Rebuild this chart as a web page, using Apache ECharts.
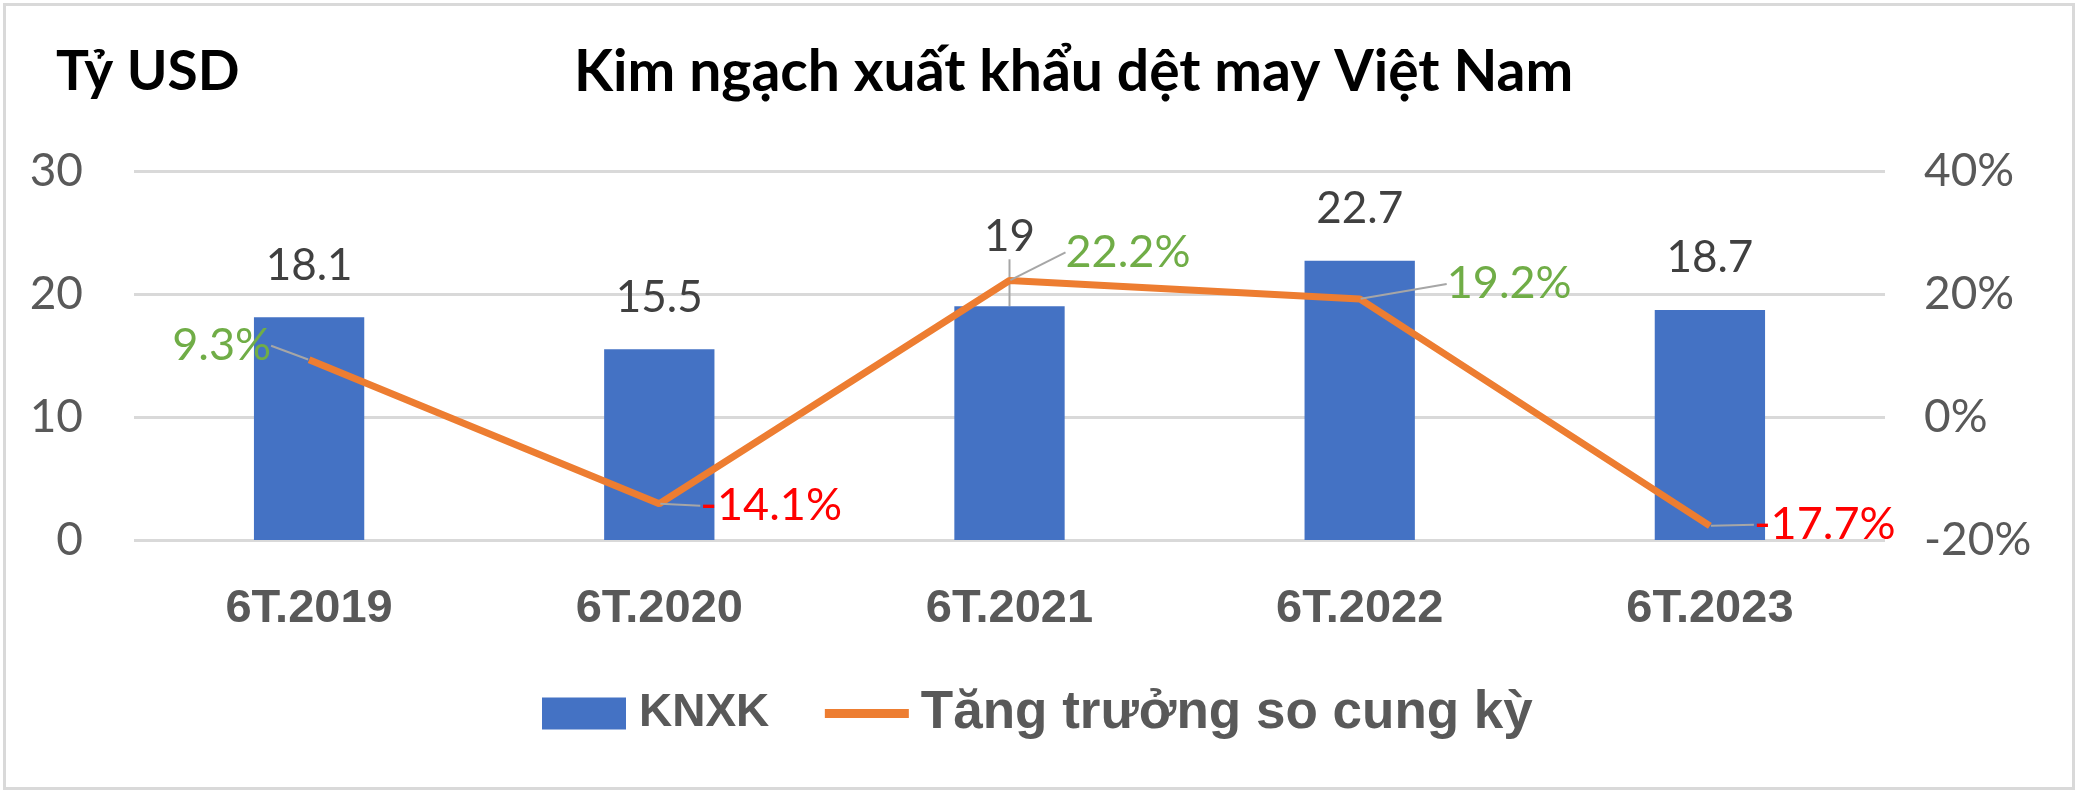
<!DOCTYPE html>
<html><head><meta charset="utf-8">
<script src="https://cdn.jsdelivr.net/npm/echarts@6/dist/echarts.min.js"></script>
<style>html,body{margin:0;padding:0;background:#fff}#c{width:2076px;height:792px}</style>
</head><body><div id="c"></div>
<script>
// ---- data ----
const categories = ['6T.2019', '6T.2020', '6T.2021', '6T.2022', '6T.2023'];
const knxk = [18.1, 15.5, 19, 22.7, 18.7];            // Tỷ USD
const growth = [9.3, -14.1, 22.2, 19.2, -17.7];       // %
const leftAxisRange = [0, 30, 10];
const rightAxisRange = [-20, 40, 20];

// ---- label placement (style, not data) ----
const lineLabelPos = ['left', 'right', 'right', 'right', 'right'];
const lineLabelShift = [[-32, -14], [35, 2], [50, -28], [81, -15], [38, -1]];
const barLabelShift = [[0, 0], [0, 0], [0, -17], [0, 0], [0, 0]];
const barLabelGuide = [false, false, true, false, false];

const BLUE = '#4472C4', ORANGE = '#ED7D31', GREEN = '#70AD47', RED = '#FF0000';
const NUM_FONT = 'Lato';
const BOLD_FONT = 'Liberation Sans';
const GUIDE = { color: '#A6A6A6', width: 2 };

const chart = echarts.init(document.getElementById('c'));
chart.setOption({
  backgroundColor: '#fff',
  animation: false,
  graphic: [{
    type: 'rect', left: 2, top: 2,
    shape: { width: 2069, height: 784 },
    style: { fill: 'none', stroke: '#D9D9D9', lineWidth: 3 },
    silent: true
  }],
  title: [
    { text: 'Tỷ USD', left: 56, top: 45, padding: 0,
      textStyle: { fontFamily: NUM_FONT, fontWeight: 'bold', fontSize: 55, color: '#000' } },
    { text: 'Kim ngạch xuất khẩu dệt may Việt Nam', left: 574, top: 44, padding: 0,
      textStyle: { fontFamily: NUM_FONT, fontWeight: 'bold', fontSize: 57, color: '#000' } }
  ],
  legend: {
    left: 537, top: 682, itemWidth: 84, itemGap: 51, itemHeight: 32,
    data: [
      { name: 'KNXK', icon: 'rect', textStyle: { padding: [0, 0, 0, 8], fontSize: 46 } },
      { name: 'Tăng trưởng so cung kỳ', itemStyle: { opacity: 0 },
        lineStyle: { width: 9, color: ORANGE }, textStyle: { padding: [0, 0, 0, 7], fontSize: 53 } }
    ],
    textStyle: { fontFamily: BOLD_FONT, fontWeight: 'bold', fontSize: 48, color: '#595959' }
  },
  grid: { left: 134, right: 191, top: 171, bottom: 252 },
  xAxis: {
    type: 'category', data: categories,
    axisLine: { show: false }, axisTick: { show: false },
    axisLabel: { margin: 46, fontFamily: BOLD_FONT, fontWeight: 'bold', fontSize: 47, color: '#595959' }
  },
  yAxis: [{
    type: 'value', min: leftAxisRange[0], max: leftAxisRange[1], interval: leftAxisRange[2],
    axisLine: { show: false }, axisTick: { show: false },
    axisLabel: { margin: 51, fontFamily: NUM_FONT, fontSize: 46, color: '#595959' },
    splitLine: { lineStyle: { color: '#D9D9D9', width: 3 } }
  }, {
    type: 'value', min: rightAxisRange[0], max: rightAxisRange[1], interval: rightAxisRange[2],
    axisLine: { show: false }, axisTick: { show: false },
    axisLabel: { margin: 39, formatter: '{value}%', fontFamily: NUM_FONT, fontSize: 46, color: '#595959' },
    splitLine: { show: false }
  }],
  series: [{
    name: 'KNXK', type: 'bar', yAxisIndex: 0, barWidth: '31.5%',
    itemStyle: { color: BLUE },
    data: knxk.map((v, i) => ({ value: v, labelLine: { show: barLabelGuide[i] } })),
    label: { show: true, position: 'top', distance: 30, fontFamily: NUM_FONT, fontSize: 44, color: '#404040' },
    labelLine: { show: false, lineStyle: GUIDE },
    labelLayout: p => ({ dx: barLabelShift[p.dataIndex][0], dy: barLabelShift[p.dataIndex][1] }),
    z: 2
  }, {
    name: 'Tăng trưởng so cung kỳ', type: 'line', yAxisIndex: 1,
    symbol: 'circle', symbolSize: 2,
    itemStyle: { color: ORANGE, opacity: 0 },
    lineStyle: { color: ORANGE, width: 7 },
    data: growth.map((v, i) => ({
      value: v,
      label: { position: lineLabelPos[i], color: v >= 0 ? GREEN : RED }
    })),
    label: { show: true, opacity: 1, distance: 5, formatter: p => p.value.toFixed(1) + '%',
      fontFamily: NUM_FONT, fontSize: 45 },
    labelLine: { show: true, lineStyle: GUIDE },
    labelLayout: p => ({ dx: lineLabelShift[p.dataIndex][0], dy: lineLabelShift[p.dataIndex][1] }),
    z: 3
  }]
});
</script></body></html>
